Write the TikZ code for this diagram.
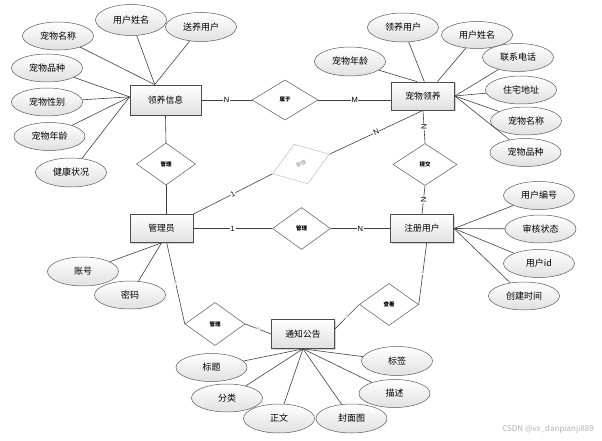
\documentclass[tikz,border=0pt]{standalone}
\usepackage{fontspec}
\setmainfont{Noto Sans CJK SC}
\newfontfamily\latinsans{Liberation Sans}
\usetikzlibrary{shapes.geometric,shadows,calc}
\begin{document}
\begin{tikzpicture}[x=1pt,y=-1pt,
 ent/.style={draw=black!70, line width=0.8pt, top color=white, bottom color=black!12,
   minimum width=63pt, minimum height=28pt, inner sep=0pt,
   font=\fontsize{8.8}{9}\selectfont,
   drop shadow={shadow xshift=1.2pt, shadow yshift=-1.2pt, opacity=0.35}},
 attr/.style={ellipse, draw=black!65, line width=0.5pt, top color=white, bottom color=black!12,
   minimum width=71pt, minimum height=28pt, inner sep=0pt, font=\fontsize{9}{10}\selectfont},
 rel/.style={diamond, draw=black!65, line width=0.5pt, fill=white, minimum width=60pt, minimum height=42pt,
   inner sep=0pt, font=\fontsize{5.5}{6}\selectfont\bfseries},
 lk/.style={draw=black!75, line width=0.6pt},
 card/.style={fill=white, inner sep=0.6pt, font=\latinsans\fontsize{7.5}{7.5}\selectfont},
 tinylab/.style={fill=white, inner sep=0.3pt, text=black!45, font=\latinsans\fontsize{4}{4}\selectfont, sloped},
]
\useasboundingbox (0,0) rectangle (602,441);

% entities
\node[ent, minimum width=71pt, minimum height=30pt] (lyxx) at (165.5,100) {领养信息};
\node[ent] (ylyy) at (423,96) {宠物领养};
\node[ent] (gly) at (161.5,228.5) {管理员};
\node[ent] (zcyh) at (422,228.5) {注册用户};
\node[ent, minimum height=29pt] (tzgg) at (303,334) {通知公告};

% relationships
\node[rel, minimum width=66pt, minimum height=40pt] (sy) at (285,100) {属于};
\node[rel, minimum width=59pt] (gl1) at (166,164) {管理};
\node[rel, rotate=19, draw=black!25, text=black!45, font=\fontsize{5}{5}\selectfont] (gl2) at (301,164) {管理};
\node[rel, minimum width=58pt] (gl3) at (301.5,228.5) {管理};
\node[rel, minimum width=64pt] (tj) at (425,164.5) {提交};
\node[rel, minimum height=43pt] (gl4) at (215,324) {管理};
\node[rel, minimum width=59pt] (ck) at (389,304.5) {查看};

% relationship links
\draw[lk] (lyxx.east) -- node[card]{N} (sy.west);
\draw[lk] (sy.east) -- node[card]{M} (sy.east -| ylyy.west);
\draw[lk] (lyxx.south) -- (gl1.north);
\draw[lk] (gl1.south) -- (gl1.south |- gly.north);
\draw[lk] (gly.north east) -- node[card, sloped]{1} (gl2.west);
\draw[lk] (gl2.east) -- node[card, sloped]{N} (ylyy.south);
\draw[lk] (gly.east) -- node[card]{1} (gl3.west);
\draw[lk] (gl3.east) -- node[card]{N} (zcyh.west);
\draw[lk] (ylyy.south) -- node[card, rotate=90]{N} (tj.north);
\draw[lk] (tj.south) -- node[card, rotate=90]{N} (zcyh.north);
\draw[lk] (gly.-70) -- node[tinylab]{1} (gl4.west);
\draw[lk] (gl4.east) -- node[tinylab]{N} (tzgg.west);
\draw[lk] (tzgg.9) -- node[tinylab]{N} (ck.west);
\draw[lk] (ck.east) -- node[tinylab]{1} (zcyh.-72);

% attributes of 领养信息
\node[attr] (a1) at (58,36) {宠物名称};
\node[attr, minimum height=31pt] (a2) at (131,20) {用户姓名};
\node[attr, minimum height=29pt] (a3) at (201,27) {送养用户};
\node[attr] (a4) at (47,68) {宠物品种};
\node[attr] (a5) at (47,102) {宠物性别};
\node[attr] (a6) at (49.5,136.5) {宠物年龄};
\node[attr, minimum height=29pt] (a7) at (71,172.5) {健康状况};
\foreach \n in {a1,a2,a3} \draw[lk] (\n) -- (lyxx.125);
\foreach \n in {a4,a5,a6,a7} \draw[lk] (\n) -- (lyxx.175);

% attributes of 宠物领养
\node[attr, minimum height=29pt] (b1) at (403,27.5) {领养用户};
\node[attr, minimum height=27pt] (b2) at (477,35) {用户姓名};
\node[attr, minimum height=29pt] (b3) at (350,61.5) {宠物年龄};
\node[attr] (b4) at (518,57.5) {联系电话};
\node[attr] (b5) at (521,90) {住宅地址};
\node[attr] (b6) at (526,121) {宠物名称};
\node[attr] (b7) at (525.5,152.5) {宠物品种};
\draw[lk] (b1) -- (ylyy.85);
\draw[lk] (b2) -- (ylyy.45);
\draw[lk] (b3) -- (ylyy.113);
\foreach \n in {b4,b5,b6,b7} \draw[lk] (\n) -- (ylyy.east);

% attributes of 管理员
\node[attr, minimum height=29pt] (c1) at (83,271.5) {账号};
\node[attr] (c2) at (130,295) {密码};
\foreach \n in {c1,c2} \draw[lk] (\n) -- (gly.south);

% attributes of 注册用户
\node[attr] (d1) at (539,195.5) {用户编号};
\node[attr] (d2) at (540.5,229) {审核状态};
\node[attr] (d3) at (539,263.5) {用户id};
\node[attr] (d4) at (524,296) {创建时间};
\foreach \n in {d1,d2,d3,d4} \draw[lk] (\n) -- (zcyh.east);

% attributes of 通知公告
\node[attr] (e1) at (211.5,367.5) {标题};
\node[attr] (e2) at (227,398) {分类};
\node[attr, minimum height=29pt] (e3) at (279,418.5) {正文};
\node[attr, minimum height=29pt] (e4) at (351.5,418.5) {封面图};
\node[attr] (e5) at (394.5,393.5) {描述};
\node[attr, minimum height=29pt] (e6) at (397,361) {标签};
\foreach \n in {e1,e2,e3,e4,e5,e6} \draw[lk] (\n) -- (tzgg.south);

% watermark
\node[text=black!30, font=\fontsize{8}{9}\selectfont, anchor=east, inner sep=0pt] (wm) at (594,429) {CSDN @vx\_danpianji889};
\end{tikzpicture}
\end{document}
